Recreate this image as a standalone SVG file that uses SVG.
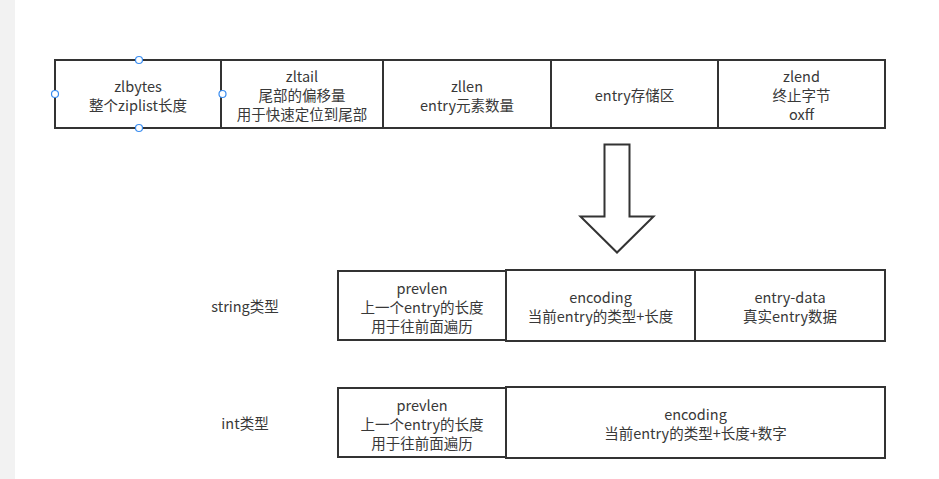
<svg xmlns="http://www.w3.org/2000/svg" width="939" height="479" viewBox="0 0 939 479">
<style>
.box{fill:#ffffff;stroke:#333333;stroke-width:2}
.t{font-family:"Noto Sans CJK SC","Noto Sans",sans-serif;font-size:14.5px;fill:#383838;text-anchor:middle;dominant-baseline:central}
.h{fill:#ffffff;stroke:#3a8df0;stroke-width:1.2}
</style>
<rect x="0" y="0" width="939" height="479" fill="#ffffff"/>
<rect x="0" y="0" width="15" height="479" fill="#f2f2f2"/>
<g id="zlbytes"><rect class="box" x="55" y="60" width="166" height="68"/><text class="t"><tspan x="138" y="84.5">zlbytes</tspan><tspan x="138" y="103.5">整个ziplist长度</tspan></text></g>
<g id="zltail"><rect class="box" x="221" y="60" width="162" height="68"/><text class="t"><tspan x="302" y="75">zltail</tspan><tspan x="302" y="94">尾部的偏移量</tspan><tspan x="302" y="113">用于快速定位到尾部</tspan></text></g>
<g id="zllen"><rect class="box" x="383" y="60" width="168" height="68"/><text class="t"><tspan x="467" y="84.5">zllen</tspan><tspan x="467" y="103.5">entry元素数量</tspan></text></g>
<g id="entry-area"><rect class="box" x="551" y="60" width="167" height="68"/><text class="t" x="634.5" y="94">entry存储区</text></g>
<g id="zlend"><rect class="box" x="718" y="60" width="167" height="68"/><text class="t"><tspan x="801.5" y="75">zlend</tspan><tspan x="801.5" y="94">终止字节</tspan><tspan x="801.5" y="113">oxff</tspan></text></g>
<g id="handles"><circle class="h" cx="55" cy="94" r="3.5"/><circle class="h" cx="222.5" cy="94" r="3.5"/><circle class="h" cx="139" cy="60" r="3.5"/><circle class="h" cx="139" cy="128" r="3.5"/></g>
<g id="connectors"><path d="M604.5 144.5 L629.5 144.5 L629.5 216.5 L653.5 216.5 L617 252.5 L580.5 216.5 L604.5 216.5 Z" fill="#ffffff" stroke="#333333" stroke-width="2" stroke-linejoin="miter"/></g>
<g id="label-string"><text class="t" x="245" y="305">string类型</text></g>
<g id="label-int"><text class="t" x="245" y="422">int类型</text></g>
<g id="s-prevlen"><rect class="box" x="338" y="271" width="168" height="69"/><text class="t"><tspan x="422" y="286.5">prevlen</tspan><tspan x="422" y="305.5">上一个entry的长度</tspan><tspan x="422" y="324.5">用于往前面遍历</tspan></text></g>
<g id="s-encoding"><rect class="box" x="506" y="270" width="189" height="71"/><text class="t"><tspan x="600.5" y="296">encoding</tspan><tspan x="600.5" y="315">当前entry的类型+长度</tspan></text></g>
<g id="s-data"><rect class="box" x="695" y="270" width="190" height="71"/><text class="t"><tspan x="790" y="296">entry-data</tspan><tspan x="790" y="315">真实entry数据</tspan></text></g>
<g id="i-prevlen"><rect class="box" x="338" y="388" width="168" height="69"/><text class="t"><tspan x="422" y="403.5">prevlen</tspan><tspan x="422" y="422.5">上一个entry的长度</tspan><tspan x="422" y="441.5">用于往前面遍历</tspan></text></g>
<g id="i-encoding"><rect class="box" x="506" y="387" width="379" height="71"/><text class="t"><tspan x="695.5" y="413">encoding</tspan><tspan x="695.5" y="432">当前entry的类型+长度+数字</tspan></text></g>
</svg>
